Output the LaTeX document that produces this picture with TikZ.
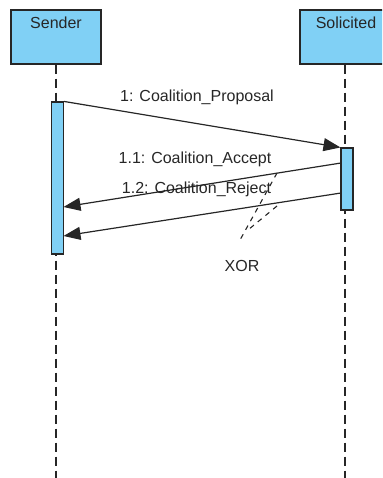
\documentclass[tikz,border=0pt]{standalone}
\usepackage{fontspec}
\setmainfont{Liberation Sans}
\usetikzlibrary{arrows.meta}
\definecolor{actblue}{RGB}{128,208,245}
\begin{document}
\begin{tikzpicture}[x=1pt,y=-1pt,
  txt/.style={font=\fontsize{16}{19}\selectfont, inner sep=0pt, text=black!85},
  headbox/.style={draw=black!85, line width=1.2pt, fill=actblue, minimum width=90pt, minimum height=54pt, inner sep=0pt},
  actbox/.style={draw=black!85, line width=1.1pt, fill=actblue, minimum width=12pt, inner sep=0pt},
  lifeline/.style={draw=black!85, line width=1.2pt, dash pattern=on 9pt off 5pt},
  msg/.style={draw=black!85, line width=1.2pt, -{Triangle[length=17pt,width=13pt]}},
  xorline/.style={draw=black!85, line width=1.1pt, dash pattern=on 5pt off 5pt}]
\useasboundingbox (0,0) rectangle (382,478);
\begin{scope}
\clip (0,0) rectangle (382,478);
% lifelines
\coordinate (sbot) at (56,478);
\coordinate (rbot) at (345,478);
\node[headbox] (sender) at (56,37) {};
\node[headbox] (solic) at (345,37) {};
\draw[lifeline] (sender.south) -- (sbot);
\draw[lifeline] (solic.south) -- (rbot);
\node[txt] (sendertxt) at (56,23) {Sender};
\node[txt] (solictxt) at (346,23) {Solicited};
% activations
\node[actbox, minimum height=152pt] (sact) at (57.5,178) {};
\node[actbox, minimum height=62pt] (ract) at (347,179) {};
% messages
\coordinate (a1s) at (341,163);
\coordinate (a1e) at (63.5,207);
\coordinate (a2s) at (341,193);
\coordinate (a2e) at (63.5,236);
\draw[msg] (sact.north east) -- (ract.north west);
\draw[msg] (a1s) -- (a1e);
\draw[msg] (a2s) -- (a2e);
\node[txt] (l1) at (197,97) {1: Coalition\_Proposal};
\node[txt] (l2) at (195,159) {1.1: Coalition\_Accept};
\node[txt] (l3) at (196.5,189) {1.2: Coalition\_Reject};
% XOR
\coordinate (x1a) at (277,173);
\coordinate (x1b) at (240,240);
\coordinate (x2a) at (277,206);
\coordinate (x2b) at (248,230);
\draw[xorline] (x1a) -- (x1b);
\draw[xorline] (x2a) -- (x2b);
\node[txt] (xor) at (242,266) {XOR};
\end{scope}
\end{tikzpicture}
\end{document}
